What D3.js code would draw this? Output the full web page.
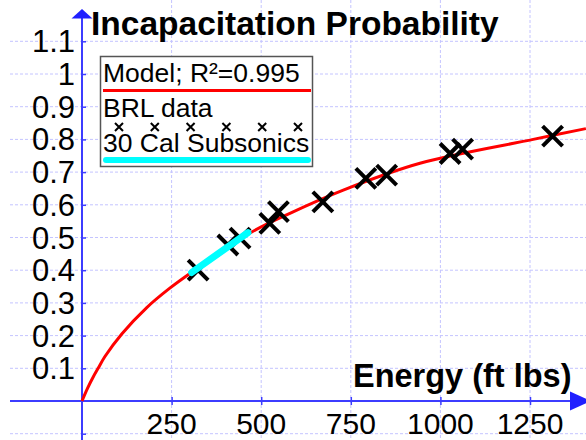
<!DOCTYPE html>
<html>
  <head>
    <title>Incapacitation Probability</title>
    <script src="https://d3js.org/d3.v7.min.js"></script>
    <style>
      body { margin: 0; background: #fff; }
      svg { display: block; font-family: "Liberation Sans", Arial, sans-serif; }
      .grid line { stroke: #c4c4ff; stroke-width: 1; stroke-dasharray: 3,2; }
      .axis path, .axis line { stroke: #3c3cff; }
    </style>
  </head>
  <body>
    <script>
      // values
      var xTicks = [250, 500, 750, 1000, 1250];
      var yTicks = [0.1, 0.2, 0.3, 0.4, 0.5, 0.6, 0.7, 0.8, 0.9, 1, 1.1];
      var yGrid = [-0.1, 0.1, 0.2, 0.3, 0.4, 0.5, 0.6, 0.7, 0.8, 0.9, 1, 1.1];

      // BRL data points (energy ft lbs, probability)
      var brlEnergy = [324, 407, 441, 524, 548, 672, 792, 850, 1027, 1062, 1313];
      var brlProb   = [0.40, 0.477, 0.498, 0.543, 0.579, 0.609, 0.681, 0.691, 0.757, 0.770, 0.810];

      // model curve
      var modelEnergy = [0, 15, 32, 45, 64, 111, 180, 245, 305, 469, 580, 729, 943, 1259, 1406];
      var modelProb   = [0, 0.038, 0.075, 0.1, 0.136, 0.205, 0.285, 0.345, 0.393, 0.514, 0.574, 0.645, 0.727, 0.800, 0.833];

      // 30 cal subsonics band
      var subEnergy = [306, 463];
      var subProb   = [0.393, 0.515];

      var width = 586;
      var height = 440;

      var svg = d3.select("body")
        .append("svg")
        .attr("width", width)
        .attr("height", height);

      var xScale = d3.scaleLinear()
        .domain([0, 1250])
        .range([82, 530]);

      var yScale = d3.scaleLinear()
        .domain([0, 1])
        .range([401, 74]);

      // grid
      var grid = svg.append("g").attr("class", "grid");
      grid.selectAll(".vg")
        .data(xTicks)
        .enter()
        .append("line")
          .attr("x1", function(d){ return xScale(d); })
          .attr("x2", function(d){ return xScale(d); })
          .attr("y1", 0)
          .attr("y2", height);
      grid.selectAll(".hg")
        .data(yGrid)
        .enter()
        .append("line")
          .attr("x1", 10)
          .attr("x2", width)
          .attr("y1", function(d){ return yScale(d); })
          .attr("y2", function(d){ return yScale(d); });

      // axes
      var xAxis = svg.append("g")
        .attr("class", "axis")
        .attr("transform", `translate(0,${yScale(0)})`)
        .call(d3.axisBottom(xScale).tickValues(xTicks).tickSize(4).tickSizeOuter(0).tickFormat(""));
      xAxis.select(".domain").remove();
      xAxis.selectAll(".tick line").attr("y1", -4).attr("stroke-width", 1.5);

      var yAxis = svg.append("g")
        .attr("class", "axis")
        .attr("transform", `translate(${xScale(0)},0)`)
        .call(d3.axisLeft(yScale).tickValues(yGrid).tickSize(4).tickSizeOuter(0).tickFormat(""));
      yAxis.select(".domain").remove();
      yAxis.selectAll(".tick line").attr("x2", 4).attr("stroke-width", 1.5);

      svg.append("line")
        .attr("x1", 10).attr("x2", 575)
        .attr("y1", yScale(0)).attr("y2", yScale(0))
        .attr("stroke", "#3c3cff").attr("stroke-width", 2);
      svg.append("line")
        .attr("x1", xScale(0)).attr("x2", xScale(0))
        .attr("y1", 16).attr("y2", height)
        .attr("stroke", "#3c3cff").attr("stroke-width", 2);
      svg.append("path")
        .attr("d", `M${xScale(0)},9 L${xScale(0)+10.5},18.5 L${xScale(0)-10.5},18.5 Z`)
        .attr("fill", "#2020ff");
      svg.append("path")
        .attr("d", `M591,${yScale(0)} L570,${yScale(0)-9.5} L570,${yScale(0)+9.5} Z`)
        .attr("fill", "#2020ff");

      // tick labels
      svg.selectAll(".ylab")
        .data(yTicks)
        .enter()
        .append("text")
          .attr("x", 75)
          .attr("y", function(d){ return yScale(d) + 11; })
          .attr("text-anchor", "end")
          .attr("font-size", "31px")
          .attr("fill", "#000")
          .text(function(d){ return d; });

      svg.selectAll(".xlab")
        .data(xTicks)
        .enter()
        .append("text")
          .attr("x", function(d){ return xScale(d); })
          .attr("y", 433.5)
          .attr("text-anchor", "middle")
          .attr("font-size", "30px")
          .attr("fill", "#000")
          .text(function(d){ return d; });

      // model curve
      var line = d3.line()
        .x(function(d){ return xScale(d[0]); })
        .y(function(d){ return yScale(d[1]); })
        .curve(d3.curveCatmullRom.alpha(0.5));

      svg.append("path")
        .datum(d3.zip(modelEnergy, modelProb))
        .attr("d", line)
        .attr("fill", "none")
        .attr("stroke", "#ff0000")
        .attr("stroke-width", 3);

      // BRL data markers
      var xs = 10;
      svg.selectAll(".pt")
        .data(d3.zip(brlEnergy, brlProb))
        .enter()
        .append("path")
          .attr("d", function(d){
            var cx = xScale(d[0]), cy = yScale(d[1]);
            return `M${cx-xs},${cy-xs}L${cx+xs},${cy+xs}M${cx-xs},${cy+xs}L${cx+xs},${cy-xs}`;
          })
          .attr("stroke", "#000")
          .attr("stroke-width", 4);

      // 30 cal subsonics
      svg.append("path")
        .datum(d3.zip(subEnergy, subProb))
        .attr("d", d3.line().x(function(d){ return xScale(d[0]); }).y(function(d){ return yScale(d[1]); }))
        .attr("fill", "none")
        .attr("stroke", "#00ffff")
        .attr("stroke-width", 7)
        .attr("stroke-linecap", "round");

      // titles
      svg.append("text")
        .attr("x", 91)
        .attr("y", 35)
        .attr("font-size", "33.5px")
        .attr("font-weight", "bold")
        .text("Incapacitation Probability");

      svg.append("text")
        .attr("x", 353)
        .attr("y", 387)
        .attr("font-size", "32.5px")
        .attr("font-weight", "bold")
        .text("Energy (ft lbs)");

      // legend
      var legend = svg.append("g");
      legend.append("rect")
        .attr("x", 100.5).attr("y", 56.5)
        .attr("width", 212).attr("height", 110)
        .attr("fill", "#fff")
        .attr("stroke", "#555")
        .attr("stroke-width", 1.5);
      legend.append("text")
        .attr("x", 103).attr("y", 82)
        .attr("font-size", "26.5px")
        .text("Model; R²=0.995");
      legend.append("line")
        .attr("x1", 103).attr("x2", 311)
        .attr("y1", 90.5).attr("y2", 90.5)
        .attr("stroke", "#ff0000").attr("stroke-width", 3);
      legend.append("text")
        .attr("x", 103).attr("y", 117)
        .attr("font-size", "26.5px")
        .text("BRL data");
      legend.selectAll(".lx")
        .data([0, 1, 2, 3, 4, 5])
        .enter()
        .append("path")
          .attr("d", function(d){
            var cx = 119 + d * 35.8, cy = 127, s = 4;
            return `M${cx-s},${cy-s}L${cx+s},${cy+s}M${cx-s},${cy+s}L${cx+s},${cy-s}`;
          })
          .attr("stroke", "#000")
          .attr("stroke-width", 2);
      legend.append("text")
        .attr("x", 103).attr("y", 152)
        .attr("font-size", "26.5px")
        .text("30 Cal Subsonics");
      legend.append("line")
        .attr("x1", 106).attr("x2", 308)
        .attr("y1", 160).attr("y2", 160)
        .attr("stroke", "#00ffff").attr("stroke-width", 6)
        .attr("stroke-linecap", "round");
    </script>
  </body>
</html>
